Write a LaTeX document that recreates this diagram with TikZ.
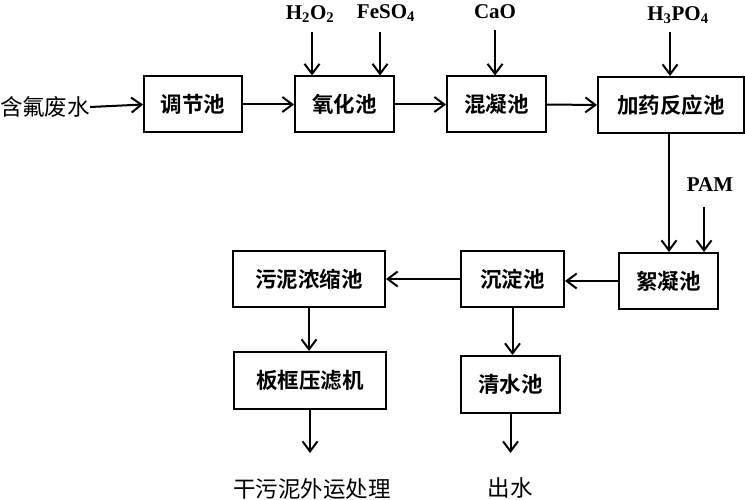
\documentclass[tikz,border=0pt]{standalone}
\usepackage{fontspec}
\setmainfont{Liberation Serif}
\newfontfamily\cjk{Noto Sans CJK SC}[BoldFont={Noto Sans CJK SC Bold}]
\usetikzlibrary{arrows.meta}
\begin{document}
\begin{tikzpicture}[x=1pt,y=-1pt,
  box/.style={draw,line width=2pt,minimum height=56pt,inner sep=0pt,font=\cjk\bfseries\fontsize{21.5}{21.5}\selectfont},
  lbl/.style={inner sep=0pt,font=\bfseries\fontsize{21}{21}\selectfont},
  cn/.style={inner sep=0pt,font=\cjk\fontsize{22.5}{22.5}\selectfont},
  arr/.style={line width=2pt,-{Straight Barb[length=10pt,width=15pt,line width=2pt]}}]
\useasboundingbox (0,0) rectangle (745,500);
% top row
\node[cn] (in) at (45,107) {含氟废水};
\node[box,minimum width=98pt] (tj) at (193,104.5) {调节池};
\node[box,minimum width=99pt] (yh) at (344.5,104.5) {氧化池};
\node[box,minimum width=99pt] (hn) at (496.5,104.5) {混凝池};
\node[box,minimum width=146pt] (jy) at (671,105) {加药反应池};
% reagents
\node[lbl] (h2o2) at (310,14) {H\textsubscript{2}O\textsubscript{2}};
\node[lbl] (feso4) at (386,13) {FeSO\textsubscript{4}};
\node[lbl] (cao) at (495,12) {CaO};
\node[lbl] (h3po4) at (678,15) {H\textsubscript{3}PO\textsubscript{4}};
\node[lbl] (pam) at (710,185) {PAM};
\coordinate (a1) at (312,32);
\coordinate (a2) at (380,32);
\coordinate (a3) at (495,30);
\coordinate (a4) at (670,32);
\coordinate (a5) at (704,207);
% second row
\node[box,minimum width=99pt] (xn) at (668.5,281) {絮凝池};
\node[box,minimum width=103pt] (cd) at (512.5,279) {沉淀池};
\node[box,minimum width=152pt] (wn) at (309,279) {污泥浓缩池};
% third row
\node[box,minimum width=152pt,minimum height=57pt] (bk) at (310,380.5) {板框压滤机};
\node[box,minimum width=99pt,minimum height=57pt] (qs) at (510.5,384.5) {清水池};
\coordinate (o1) at (310,453);
\coordinate (o2) at (510.5,453);
\node[cn] (gw) at (312,489) {干污泥外运处理};
\node[cn] (cs) at (510,488) {出水};
% connectors
\draw[arr] (in.east) -- (tj.west);
\draw[arr] (tj.east) -- (yh.west);
\draw[arr] (yh.east) -- (hn.west);
\draw[arr] (hn.east) -- (jy.west);
\draw[arr] (a1) -- (a1 |- yh.north);
\draw[arr] (a2) -- (a2 |- yh.north);
\draw[arr] (a3) -- (a3 |- hn.north);
\draw[arr] (a4) -- (a4 |- jy.north);
\draw[arr] (jy.south -| 669,0) -- (669,0 |- xn.north);
\draw[arr] (a5) -- (a5 |- xn.north);
\draw[arr] (xn.west) -- (cd.east |- xn.west);
\draw[arr] (cd.west) -- (wn.east);
\draw[arr] (wn.south) -- (bk.north -| wn.south);
\draw[arr] (cd.south) -- (qs.north -| cd.south);
\draw[arr] (bk.south) -- (o1);
\draw[arr] (qs.south) -- (o2);
\end{tikzpicture}
\end{document}
